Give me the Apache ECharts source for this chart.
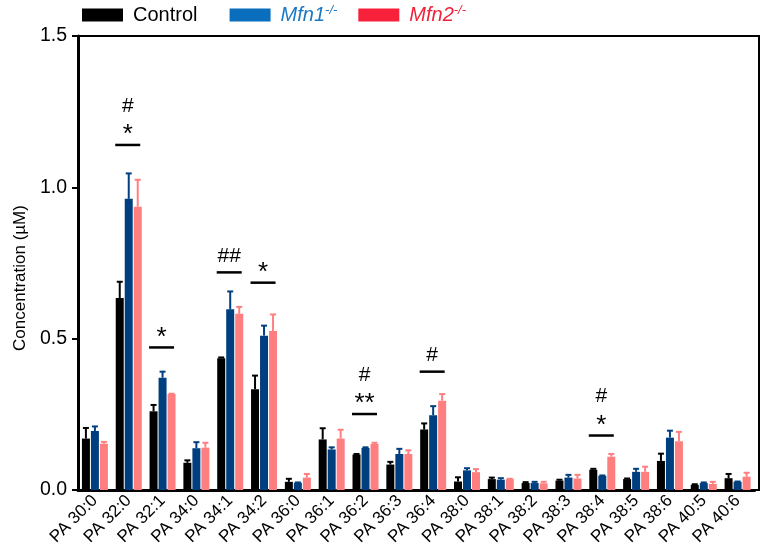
<!DOCTYPE html>
<html>
<head>
<meta charset="utf-8">
<script src="https://cdn.jsdelivr.net/npm/echarts@6/dist/echarts.min.js"></script>
<style>
  html, body { margin: 0; padding: 0; background: #fff; }
  #chart { width: 767px; height: 554px; }
</style>
</head>
<body>
<div id="chart"></div>
<script>
// Phosphatidic acid species measured in each genotype
const categories = ['PA 30:0', 'PA 32:0', 'PA 32:1', 'PA 34:0', 'PA 34:1', 'PA 34:2', 'PA 36:0',
  'PA 36:1', 'PA 36:2', 'PA 36:3', 'PA 36:4', 'PA 38:0', 'PA 38:1', 'PA 38:2', 'PA 38:3',
  'PA 38:4', 'PA 38:5', 'PA 38:6', 'PA 40:5', 'PA 40:6'];

// Mean concentrations (µM)
const controlMean = [0.170, 0.634, 0.260, 0.090, 0.435, 0.333, 0.027, 0.167, 0.117, 0.084,
  0.200, 0.028, 0.036, 0.023, 0.031, 0.067, 0.036, 0.096, 0.017, 0.039];
const mfn1Mean = [0.195, 0.962, 0.371, 0.138, 0.597, 0.510, 0.024, 0.134, 0.139, 0.119,
  0.247, 0.065, 0.034, 0.023, 0.041, 0.047, 0.060, 0.173, 0.023, 0.027];
const mfn2Mean = [0.153, 0.936, 0.317, 0.140, 0.582, 0.525, 0.041, 0.170, 0.152, 0.119,
  0.295, 0.059, 0.036, 0.022, 0.038, 0.110, 0.060, 0.161, 0.020, 0.044];

// Standard error of the mean (upper whiskers only)
const controlSem = [0.035, 0.054, 0.021, 0.008, 0.003, 0.045, 0.010, 0.037, 0.002, 0.009,
  0.020, 0.014, 0.005, 0.003, 0.003, 0.003, 0.002, 0.024, 0.002, 0.014];
const mfn1Sem = [0.015, 0.084, 0.020, 0.020, 0.059, 0.033, 0.001, 0.007, 0.002, 0.017,
  0.030, 0.007, 0.005, 0.004, 0.009, 0.001, 0.010, 0.023, 0.002, 0.001];
const mfn2Sem = [0.006, 0.089, 0.001, 0.016, 0.023, 0.055, 0.012, 0.029, 0.004, 0.012,
  0.022, 0.010, 0.001, 0.005, 0.012, 0.009, 0.017, 0.031, 0.007, 0.013];

// Significance brackets: category index, bracket height (µM), markers from bottom to top
const sigCategory = [1, 2, 4, 5, 8, 10, 15];
const sigLevel = [1.14, 0.471, 0.719, 0.685, 0.251, 0.391, 0.18];
const sigMarks = [['*', '#'], ['*'], ['##'], ['*'], ['**', '#'], ['#'], ['*', '#']];

const yTicks = [0, 0.5, 1.0, 1.5];

const FONT = '"Liberation Sans", Arial, sans-serif';
const BAR_W = 8;
const BAR_GAP_PX = 1;
const barColors = ['#000000', '#003f7f', '#ff7f80'];
const legendColors = ['#000000', '#0a6ebd', '#f8213c'];
const legendTextColors = ['#000000', '#1a78c4', '#f0223a'];

const chart = echarts.init(document.getElementById('chart'), null, { renderer: 'canvas' });

function errorSeries(name, means, sems, k) {
  const offset = (k - 1) * (BAR_W + BAR_GAP_PX);
  const color = barColors[k];
  return {
    type: 'custom',
    name: name + ' SEM',
    z: 3,
    silent: true,
    data: means.map((m, i) => [i, m, sems[i]]),
    renderItem: function (params, api) {
      const i = api.value(0), v = api.value(1), e = api.value(2);
      if (!e) return null;
      const p0 = api.coord([i, v]);
      const p1 = api.coord([i, v + e]);
      const x = p0[0] + offset;
      return {
        type: 'group',
        children: [
          { type: 'line', shape: { x1: x, y1: p0[1], x2: x, y2: p1[1] },
            style: { stroke: color, lineWidth: 2 } },
          { type: 'line', shape: { x1: x - 3, y1: p1[1], x2: x + 3, y2: p1[1] },
            style: { stroke: color, lineWidth: 2 } }
        ]
      };
    }
  };
}

const option = {
  animation: false,
  backgroundColor: '#ffffff',
  textStyle: { fontFamily: FONT },
  grid: [
    { left: 78, right: 12.5, top: 36, bottom: 64, containLabel: false },
    // plot frame
    { left: 78, right: 8, top: 36, bottom: 64, show: true, borderColor: '#000',
      borderWidth: 2, backgroundColor: 'transparent' }
  ],
  legend: {
    left: 82, top: 4, padding: 0,
    icon: 'rect', itemWidth: 41, itemHeight: 13, itemGap: 21,
    selectedMode: false,
    data: [
      { name: 'Control', itemStyle: { color: legendColors[0] }, textStyle: { color: legendTextColors[0] } },
      { name: 'Mfn1', itemStyle: { color: legendColors[1] }, textStyle: { color: legendTextColors[1] } },
      { name: 'Mfn2', itemStyle: { color: legendColors[2] }, textStyle: { color: legendTextColors[2] } }
    ],
    formatter: function (name) {
      return name === 'Control' ? '{c|Control\u00a0\u00a0}' : '{g|' + name + '}{s|-/-}';
    },
    textStyle: {
      fontFamily: FONT, fontSize: 20,
      rich: {
        c: { fontFamily: FONT, fontSize: 20, padding: [0, 0, 0, 5] },
        g: { fontFamily: FONT, fontSize: 20, fontStyle: 'italic', padding: [0, 0, 0, 5], lineHeight: 22 },
        s: { fontFamily: FONT, fontSize: 13, fontStyle: 'italic', verticalAlign: 'top', lineHeight: 12 }
      }
    }
  },
  xAxis: {
    type: 'category',
    data: categories,
    boundaryGap: true,
    axisLine: { lineStyle: { color: '#000', width: 3 } },
    axisTick: { show: false },
    axisLabel: { interval: 0, rotate: 45, margin: 8, color: '#000', fontSize: 17, fontFamily: FONT },
    splitLine: { show: false }
  },
  yAxis: {
    type: 'value',
    min: yTicks[0], max: yTicks[yTicks.length - 1], interval: 0.5,
    name: 'Concentration (µM)',
    nameLocation: 'middle',
    nameGap: 46,
    nameTextStyle: { color: '#000', fontSize: 17, fontFamily: FONT, padding: [0, 30, 0, 0] },
    axisLine: { show: true, lineStyle: { color: '#000', width: 3 } },
    axisTick: { show: true, length: 6, lineStyle: { color: '#000', width: 2 } },
    axisLabel: { color: '#000', fontSize: 19.5, fontFamily: FONT, margin: 11,
      formatter: v => v.toFixed(1) },
    splitLine: { show: false }
  },
  series: [
    { type: 'bar', name: 'Control', data: controlMean, barWidth: BAR_W,
      barGap: (BAR_GAP_PX / BAR_W * 100) + '%', itemStyle: { color: barColors[0] }, z: 2 },
    { type: 'bar', name: 'Mfn1', data: mfn1Mean, barWidth: BAR_W,
      barGap: (BAR_GAP_PX / BAR_W * 100) + '%', itemStyle: { color: barColors[1] }, z: 2 },
    { type: 'bar', name: 'Mfn2', data: mfn2Mean, barWidth: BAR_W,
      barGap: (BAR_GAP_PX / BAR_W * 100) + '%', itemStyle: { color: barColors[2] }, z: 2 },
    errorSeries('Control', controlMean, controlSem, 0),
    errorSeries('Mfn1', mfn1Mean, mfn1Sem, 1),
    errorSeries('Mfn2', mfn2Mean, mfn2Sem, 2),
    {
      type: 'custom',
      name: 'significance',
      z: 4,
      silent: true,
      data: sigCategory.map((c, k) => [c, sigLevel[k]]),
      renderItem: function (params, api) {
        const p = api.coord([api.value(0), api.value(1)]);
        const x = p[0] - 1;
        const children = [
          { type: 'line', shape: { x1: x - 12.5, y1: p[1], x2: x + 12.5, y2: p[1] },
            style: { stroke: '#000', lineWidth: 2.5 } }
        ];
        sigMarks[params.dataIndex].forEach((mark, k) => {
          const isStar = mark.charAt(0) === '*';
          const cy = p[1] - 16 - 23 * k;
          children.push({
            type: 'text',
            x: x,
            y: isStar ? cy + 6 : cy,
            style: {
              text: mark,
              fill: '#000',
              fontFamily: FONT,
              fontSize: isStar ? 26 : 21,
              align: 'center',
              verticalAlign: 'middle'
            }
          });
        });
        return { type: 'group', children: children };
      }
    }
  ]
};

chart.setOption(option);
</script>
</body>
</html>
